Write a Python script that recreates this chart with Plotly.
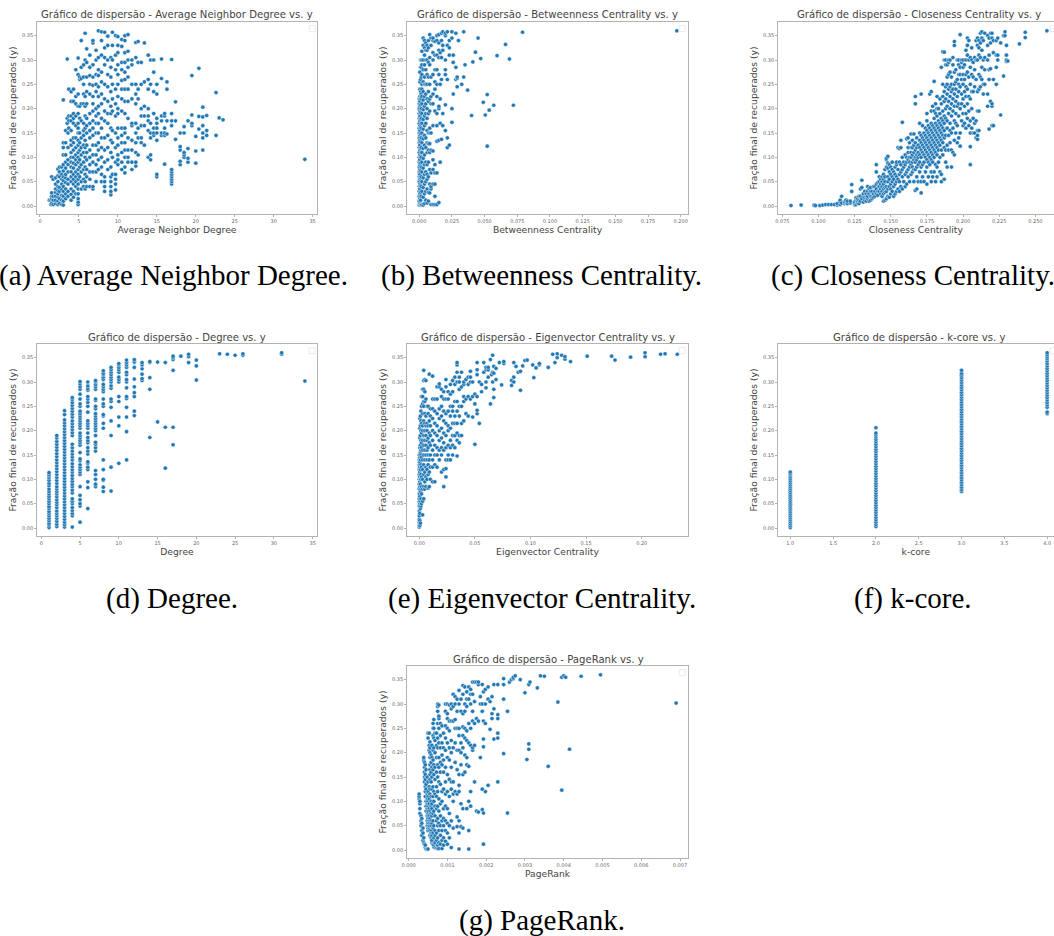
import plotly.graph_objects as go

WIDTH, HEIGHT = 1054, 936

# ---- data: (x value, [y values]) ----
a_columns = [(1.2,[.012]),(1.4,[.003,.012]),(1.5,[.005,.015,.02,.027,.06]),(1.7,[.003,.012,.02,.055]),
(2,[.005,.012,.02,.028,.035,.045,.058]),(2.3,[.003,.01,.018,.025,.032,.04,.05,.062,.076]),(2.5,[.005,.015,.03,.038,.06,.07,.08]),
(2.8,[.003,.012,.022,.034,.045,.055,.065,.08]),(3,[.002,.01,.02,.03,.04,.052,.06,.072,.085,.105,.12,.13,.218]),
(3.3,[.015,.025,.035,.048,.058,.065,.078,.09,.105,.13,.155]),(3.5,[.302,.17,.18]),(3.6,[.02,.03,.045,.055,.07,.085,.095,.12,.15]),
(3.7,[.24,.185,.175,.16]),(4,[.012,.024,.035,.05,.06,.07,.08,.09,.1,.11,.125,.135,.155,.175,.185,.215,.235]),
(4.3,[.018,.03,.045,.055,.065,.078,.088,.1,.115,.13,.14,.17,.18,.19,.215,.24]),(4.6,[.025,.04,.05,.06,.07,.085,.095,.105,.12,.14,.165,.185,.21,.225,.28]),
(4.9,[.003,.008,.015,.025,.035,.045,.055,.065,.075,.09,.1,.11,.125,.135,.15,.16,.17,.19,.205,.23,.27,.304]),
(5.1,[.06,.08,.095,.115,.13,.15,.18,.205,.26,.265]),(5.3,[.035,.05,.07,.085,.105,.12,.14,.175,.21,.262,.285,.34]),
(5.6,[.04,.055,.075,.09,.11,.125,.145,.155,.17,.21,.23,.25,.265,.29]),(5.8,[.035,.05,.065,.08,.1,.12,.135,.16,.185,.205,.225,.3,.355]),
(6,[.04,.06,.075,.095,.11,.125,.15,.165,.18,.21,.235,.265,.295,.323]),(6.4,[.04,.055,.07,.085,.1,.115,.14,.155,.17,.19,.23,.25,.268,.285,.31]),
(6.8,[.035,.04,.07,.09,.105,.125,.145,.16,.175,.195,.21,.225,.248,.265,.29,.335,.34]),(7.2,[.05,.07,.085,.105,.125,.15,.17,.185,.2,.235,.25,.27,.3,.32]),
(7.5,[.075,.095,.115,.13,.15,.17,.19,.205,.225,.245,.268,.28,.305,.36]),(7.9,[.05,.065,.08,.1,.12,.14,.16,.18,.21,.23,.255,.275,.31,.34,.358]),
(8.3,[.03,.04,.05,.06,.09,.115,.14,.175,.195,.22,.25,.29,.305,.325,.357]),(8.7,[.075,.095,.12,.145,.17,.19,.215,.245,.27,.3,.33,.349]),
(9.1,[.023,.03,.04,.05,.06,.08,.11,.135,.16,.19,.205,.235,.265,.285,.305]),(9.3,[.065,.1,.13,.155,.195,.22,.25,.3,.33,.357]),
(9.7,[.033,.045,.055,.065,.09,.12,.15,.185,.21,.24,.28,.31,.35]),(10,[.085,.095,.105,.125,.14,.16,.19,.2,.225,.25,.27,.29,.315,.33,.348]),
(10.5,[.075,.09,.11,.13,.145,.16,.195,.22,.24,.258,.28,.295,.328,.342]),(10.9,[.068,.08,.1,.115,.13,.15,.16,.19,.215,.24,.26,.275,.295,.315,.34,.35]),
(11.3,[.09,.1,.115,.14,.18,.215,.24,.265,.285,.3,.318,.352]),(11.8,[.075,.09,.115,.135,.165,.17,.22,.25,.29,.3]),
(12.3,[.082,.09,.11,.13,.15,.17,.21,.23,.25,.305,.336]),(12.6,[.105,.14,.16,.22,.24,.295,.338]),(13,[.13,.14,.165,.185,.2,.25,.295]),
(13.4,[.125,.165,.185,.205,.255,.335]),(13.9,[.1,.155,.175,.185,.2,.24,.26,.31]),(14.2,[.095,.105,.14,.15,.17,.25,.3]),(14.6,[.145,.15,.16,.19,.235,.275,.3]),
(15,[.06,.065,.135,.15,.16,.17,.18,.23,.25]),(15.6,[.145,.15,.175,.185,.262,.302]),(16,[.086,.145,.15,.16,.185,.19]),(16.3,[.148,.175,.24,.255]),
(16.9,[.045,.05,.055,.06,.065,.07,.075,.165,.175,.19,.301]),(17.4,[.137,.175,.214]),(18,[.085,.092,.115,.122,.15]),(18.5,[.1,.105,.11,.15,.163]),
(19,[.09,.098,.118,.175]),(19.5,[.165,.17,.187,.268]),(20,[.088,.113,.143]),(20.4,[.158,.184,.283]),(20.9,[.115,.14,.15,.165,.183,.203]),
(21.4,[.145,.155,.186]),(22.6,[.145,.233]),(23,[.181]),(23.5,[.177]),(34,[.096])]

b_columns = [(0,[.002,.01,.02,.03,.04,.05,.06,.07,.08,.09,.1,.11,.12,.13,.14,.15,.16,.17,.18,.19,.2,.21,.22]),
(.0005,[.005,.015,.025,.035,.045,.055,.065,.075,.085,.095,.105,.115,.125,.135,.145,.155,.165,.175,.185,.195,.205,.215,.225,.24,.255,.275]),
(.001,[.003,.012,.028,.042,.058,.072,.088,.102,.118,.132,.148,.162,.178,.192,.208,.222,.235,.26,.285,.3]),
(.0015,[.002,.02,.04,.06,.08,.1,.12,.14,.16,.18,.2,.22,.23,.265,.285,.3]),
(.002,[.003,.03,.05,.07,.09,.11,.13,.15,.17,.19,.21,.225,.24,.25,.27,.29,.3,.318]),
(.003,[.002,.018,.038,.058,.078,.098,.118,.138,.158,.178,.198,.218,.235,.255,.28,.3,.33,.345]),
(.004,[.005,.025,.045,.065,.085,.105,.125,.145,.165,.185,.205,.225,.25,.265,.29,.31,.325,.34]),
(.005,[.012,.03,.05,.07,.09,.12,.14,.17,.19,.21,.23,.25,.28,.3,.32,.335]),
(.006,[.006,.035,.055,.065,.085,.11,.13,.155,.18,.2,.22,.25,.27,.3,.32,.33]),
(.007,[.01,.028,.06,.09,.115,.128,.15,.19,.215,.235,.265,.295,.325,.34]),
(.008,[.027,.045,.075,.11,.128,.15,.16,.195,.22,.25,.29,.305,.352]),
(.009,[.003,.035,.04,.068,.115,.15,.21,.225,.265,.33,.345]),
(.0105,[.003,.045,.075,.095,.113,.165,.21,.23,.27,.3,.315,.34,.345]),
(.012,[.003,.02,.045,.068,.085,.195,.24,.255,.28,.31,.338]),
(.0135,[.003,.068,.133,.165,.19,.225,.25,.28,.31,.34,.35]),
(.015,[.007,.135,.2,.205,.27,.305,.32,.335,.352]),(.016,[.09,.17,.22,.25,.315]),(.017,[.137,.26,.305,.34,.355]),(.018,[.165,.19,.32,.33,.358]),
(.02,[.155,.208,.27,.28,.3,.35,.355]),(.0215,[.12,.14,.26,.33,.358]),(.023,[.125,.31,.325,.34]),(.025,[.172,.2,.345,.358]),(.026,[.23,.295,.31]),
(.028,[.26,.285,.355]),(.029,[.245,.262,.265]),(.03,[.34]),(.0325,[.25]),(.034,[.265,.358]),(.035,[.29]),(.037,[.238]),(.04,[.186]),(.041,[.296]),
(.043,[.316]),(.045,[.345]),(.047,[.303]),(.049,[.213]),(.0505,[.187]),(.052,[.123,.229]),(.0535,[.197]),(.057,[.207]),(.0595,[.309]),(.066,[.332]),
(.069,[.302]),(.072,[.207]),(.079,[.357]),(.197,[.36])]

c_columns = [(.081,[.001]),(.088,[.002]),(.097,[.001,.002]),(.098,[.001]),(.101,[.001]),(.103,[.002]),(.105,[.003]),(.107,[.003]),(.109,[.003]),(.111,[.003]),
(.113,[.002,.005]),(.115,[.003,.008,.012]),(.116,[.006,.02]),(.118,[.005,.008]),(.119,[.008,.012]),(.12,[.005,.01]),(.122,[.006,.01]),(.123,[.03,.044]),
(.125,[.002,.005,.008]),(.126,[.003,.012,.017]),(.127,[.006,.01,.015]),(.128,[.005,.012,.02]),(.129,[.01,.02,.035]),(.13,[.015,.038,.053]),(.131,[.008,.02,.025]),
(.132,[.012,.018,.03]),(.133,[.01,.02,.025]),(.134,[.015,.02,.03,.04]),(.135,[.01,.025,.035]),(.136,[.012,.02,.03,.038]),(.137,[.015,.02,.03]),(.138,[.018,.025,.04]),
(.139,[.02,.03,.04]),(.14,[.025,.035,.045,.07,.085]),(.141,[.022,.03,.048]),(.142,[.03,.04,.05,.06]),(.143,[.025,.035,.045,.055]),(.144,[.02,.03,.04,.05,.06]),
(.145,[.01,.025,.035,.045,.055,.065]),(.146,[.012,.028,.038,.05,.06,.075]),(.147,[.015,.03,.04,.08,.095,.098]),(.148,[.02,.035,.05,.06,.078,.088,.102]),
(.149,[.018,.04,.055,.07,.085]),(.15,[.025,.035,.045,.065,.08]),(.151,[.03,.05,.06,.075,.09]),(.152,[.02,.04,.055,.07]),(.153,[.025,.045,.065,.08]),
(.154,[.03,.05,.06,.085,.09]),(.155,[.035,.055,.075,.12]),(.156,[.03,.05,.065,.09,.118]),(.157,[.04,.07,.085,.12,.135]),(.158,[.035,.06,.075,.1,.172]),
(.159,[.05,.08,.09]),(.16,[.04,.065,.085,.105]),(.161,[.045,.07,.09,.1,.138]),(.162,[.06,.075,.095,.11,.12,.14]),(.163,[.05,.08,.09,.1,.13]),
(.164,[.065,.085,.1,.11,.12,.148]),(.165,[.07,.08,.09,.105,.12,.135]),(.166,[.05,.075,.095,.11,.125,.148]),(.167,[.032,.075,.09,.1,.115,.13,.21,.225]),
(.168,[.035,.06,.08,.095,.105,.12,.14]),(.169,[.05,.085,.1,.11,.125]),(.17,[.07,.09,.105,.12,.135,.15,.17]),(.171,[.027,.05,.08,.1,.115,.13,.145,.23]),
(.172,[.06,.085,.11,.125,.14,.165]),(.173,[.05,.09,.105,.12,.135,.15]),(.174,[.07,.1,.115,.13,.145,.16]),(.175,[.045,.08,.095,.11,.125,.14,.155,.175,.19]),
(.176,[.06,.09,.105,.12,.135,.15,.165]),(.177,[.085,.1,.115,.13,.145,.16,.23]),(.178,[.05,.07,.095,.11,.125,.14,.155,.17,.195,.235]),
(.179,[.06,.09,.105,.12,.135,.15,.165,.205]),(.18,[.07,.1,.115,.13,.145,.16,.18,.195,.256]),(.181,[.05,.085,.11,.125,.14,.155,.17,.19,.21]),
(.182,[.06,.08,.105,.12,.135,.15,.165,.185,.2,.225]),(.183,[.09,.115,.13,.145,.16,.175,.2]),(.184,[.07,.1,.125,.14,.155,.17,.19,.22]),
(.185,[.05,.065,.115,.135,.15,.165,.18,.21,.285]),(.186,[.105,.13,.145,.16,.175,.195,.225,.25,.317]),(.187,[.055,.12,.14,.155,.17,.185,.215,.235,.3,.316]),
(.188,[.09,.115,.145,.18,.2,.22,.245,.29,.3]),(.189,[.08,.125,.16,.175,.205,.23,.25,.265,.29]),(.19,[.115,.145,.19,.215,.24,.27,.295,.3]),
(.191,[.13,.155,.17,.2,.225,.245,.275,.3]),(.192,[.08,.115,.15,.185,.21,.235,.25,.265]),(.193,[.11,.16,.195,.22,.24,.29,.305]),
(.194,[.105,.135,.175,.205,.23,.25,.275,.33,.338]),(.195,[.15,.17,.19,.215,.24,.255,.28]),(.196,[.13,.165,.205,.225,.26,.3]),(.197,[.14,.185,.21,.235,.25,.27,.29,.3]),
(.198,[.123,.15,.2,.245,.27,.285,.352]),(.199,[.175,.21,.23,.26,.295,.3]),(.2,[.165,.19,.22,.25,.27,.285,.3]),(.201,[.17,.205,.235,.26,.29]),
(.202,[.16,.19,.225,.245,.27,.3,.32]),(.203,[.18,.21,.24,.275,.31,.33,.345]),(.204,[.165,.195,.225,.265,.3,.34]),(.205,[.085,.122,.15,.175,.22,.25,.285,.305]),
(.206,[.16,.2,.235,.27,.3,.325]),(.207,[.15,.18,.235,.265,.295]),(.208,[.15,.17,.245,.28,.305]),(.209,[.14,.175,.26,.3,.34]),(.21,[.137,.145,.155,.195,.235,.3,.33,.345]),
(.211,[.155,.195,.24,.27,.31,.325,.34]),(.212,[.245,.265,.305,.335,.355]),(.213,[.26,.285,.32,.345,.358]),(.214,[.23,.25,.3,.34]),(.215,[.25,.28,.305,.355]),
(.217,[.205,.23,.3,.33,.35]),(.218,[.158,.26,.28,.31,.345]),(.219,[.215,.282,.335,.355]),(.22,[.165,.205,.21,.345,.355]),(.221,[.165,.26,.315,.34]),
(.223,[.25,.285,.31,.34]),(.224,[.3,.31,.345]),(.226,[.187,.335]),(.228,[.267,.35]),(.229,[.35,.358]),(.23,[.297,.3,.31,.33]),(.231,[.298]),(.239,[.333]),(.243,[.346,.357]),(.258,[.36])]

d_columns = [(1,[.001,.006,.01,.015,.02,.025,.03,.034,.04,.044,.05,.055,.06,.065,.07,.075,.08,.087,.092,.098,.103,.107,.11,.114]),
(2,[.003,.008,.014,.02,.025,.03,.035,.042,.048,.053,.058,.064,.07,.075,.08,.085,.092,.098,.104,.11,.116,.122,.128,.134,.14,.147,.153,.16,.166,.172,.178,.185,.19]),
(3,[.002,.007,.012,.018,.024,.03,.036,.042,.048,.054,.06,.066,.072,.078,.084,.09,.096,.102,.108,.114,.12,.126,.132,.138,.144,.15,.156,.162,.168,.174,.18,.186,.192,.198,.204,.21,.216,.222,.233,.241]),
(4,[.002,.025,.03,.036,.042,.05,.055,.06,.072,.078,.085,.09,.096,.102,.108,.115,.12,.126,.132,.14,.146,.152,.158,.165,.172,.19,.196,.202,.208,.214,.22,.228,.234,.24,.246,.252,.258,.264,.268]),
(5,[.012,.045,.05,.058,.067,.085,.11,.115,.12,.125,.13,.138,.142,.155,.17,.175,.18,.185,.19,.195,.205,.21,.215,.22,.225,.23,.235,.24,.25,.255,.265,.275,.285,.29,.296,.301]),
(6,[.04,.083,.095,.12,.125,.133,.136,.152,.158,.165,.175,.18,.186,.195,.205,.21,.215,.22,.238,.25,.258,.265,.27,.283,.286,.292,.3]),
(7,[.085,.09,.1,.11,.118,.158,.165,.172,.176,.19,.2,.205,.21,.215,.22,.225,.23,.235,.245,.25,.262,.265,.285,.29,.295,.3,.303]),
(8,[.075,.084,.098,.1,.12,.14,.205,.215,.23,.233,.25,.255,.265,.28,.285,.29,.295,.305,.31,.315,.318,.323]),
(9,[.076,.125,.19,.22,.248,.26,.265,.287,.292,.3,.305,.31,.315,.32,.325,.33]),(10,[.133,.21,.228,.26,.27,.3,.305,.31,.32,.325,.33,.335,.338]),
(11,[.14,.198,.228,.248,.266,.27,.288,.3,.305,.315,.32,.33,.335,.34,.345]),(12,[.231,.24,.27,.278,.29,.306,.33,.34,.342,.346]),(13,[.303,.307,.316,.327,.335,.34]),
(14,[.186,.285,.309,.34,.342]),(15,[.218,.341]),(16,[.123,.207,.34]),(17,[.171,.207,.324,.346,.35,.353]),(18,[.353]),(19,[.34,.352,.357]),(20,[.304,.333,.345]),
(23,[.358]),(24,[.357]),(25,[.355]),(26,[.355,.358]),(31,[.357,.36]),(34,[.302])]

e_columns = [(0,[.002,.006,.012,.018,.025,.035,.045,.055,.06,.07,.08,.09,.1,.11,.12,.13,.14,.15]),
(.0005,[.005,.015,.03,.05,.065,.085,.095,.105,.115,.125,.135,.145,.165,.185,.205,.225]),(.001,[.01,.04,.055,.075,.09,.1,.12,.14,.155,.17,.19,.21,.23]),
(.0015,[.045,.06,.08,.1,.11,.13,.15,.16,.18,.2,.22,.24]),(.002,[.05,.07,.085,.105,.125,.145,.165,.175,.195,.215,.25,.27]),
(.003,[.027,.055,.08,.1,.12,.14,.16,.18,.2,.21,.235,.255,.27,.285]),(.004,[.06,.085,.11,.13,.15,.17,.19,.22,.25,.26,.285,.303,.324]),
(.005,[.08,.095,.115,.14,.16,.18,.2,.215,.235,.26,.28,.305]),(.006,[.085,.105,.125,.15,.17,.19,.21,.23,.265,.303]),(.007,[.1,.12,.14,.16,.18,.2,.215,.25]),
(.008,[.082,.11,.13,.15,.165,.185,.21,.235,.25]),(.009,[.085,.115,.14,.175,.195,.22,.316]),(.01,[.1,.125,.15,.17,.19,.21,.23,.245]),
(.012,[.095,.125,.14,.16,.18,.2,.225,.245,.265,.312]),(.014,[.095,.13,.15,.17,.195,.215,.24,.265]),(.016,[.125,.15,.165,.19,.21,.235,.265,.29]),
(.018,[.14,.16,.18,.2,.225,.245,.29,.296]),(.02,[.115,.15,.165,.185,.205,.23,.25,.27,.285]),(.022,[.085,.12,.16,.175,.195,.22,.24,.265,.28]),
(.024,[.105,.122,.14,.165,.19,.215,.235,.265,.29,.305]),(.026,[.14,.15,.17,.2,.21,.24,.265,.28]),(.028,[.14,.165,.18,.205,.23,.25,.275,.295]),
(.03,[.15,.17,.19,.215,.24,.25,.28,.303]),(.032,[.165,.19,.215,.23,.26,.295,.31]),(.034,[.148,.18,.195,.215,.24,.26,.3,.32,.335,.34]),
(.036,[.175,.19,.23,.25,.285,.3,.31]),(.038,[.19,.215,.25,.29,.32]),(.04,[.22,.26,.27,.295,.3]),(.042,[.235,.265,.305]),(.044,[.23,.27,.295,.31]),
(.046,[.265,.3,.31,.322]),(.048,[.228,.27,.3]),(.05,[.172,.255,.275]),(.052,[.235,.242,.27,.315,.325,.34]),(.054,[.215,.3]),(.056,[.28,.295]),(.058,[.32,.34]),
(.06,[.288,.3,.325,.33]),(.062,[.31,.325,.33]),(.064,[.255,.346]),(.065,[.315]),(.066,[.3,.32,.355]),(.067,[.268,.285,.318,.332]),(.069,[.305,.328]),(.072,[.34]),
(.074,[.294]),(.076,[.338,.342]),(.083,[.293,.303]),(.085,[.3,.31,.34]),(.087,[.332]),(.089,[.32]),(.091,[.283,.322]),(.093,[.333]),(.095,[.344]),(.097,[.345]),
(.102,[.335]),(.103,[.309]),(.105,[.329]),(.108,[.335,.338]),(.116,[.33]),(.12,[.357]),(.122,[.34]),(.124,[.35,.358]),(.128,[.355]),(.131,[.347,.352]),(.136,[.342]),
(.151,[.353]),(.173,[.353]),(.176,[.345]),(.19,[.351]),(.203,[.352,.36]),(.217,[.357]),(.221,[.358]),(.232,[.357])]

f_columns = [(1,[.001,.005,.009,.013,.017,.021,.025,.029,.033,.037,.041,.045,.049,.053,.057,.061,.065,.069,.073,.077,.081,.085,.089,.093,.097,.101,.105,.109,.112,.115]),
(2,[.003,.007,.012,.017,.022,.027,.032,.037,.042,.047,.052,.057,.062,.067,.072,.077,.082,.087,.092,.097,.102,.107,.112,.117,.122,.127,.132,.137,.142,.147,.152,.157,.162,.167,.172,.177,.182,.187,.191,.195,.206]),
(3,[.075,.079,.084,.089,.094,.099,.104,.109,.114,.119,.124,.129,.134,.139,.144,.149,.154,.159,.164,.169,.174,.179,.184,.189,.194,.199,.204,.209,.214,.219,.224,.229,.234,.239,.244,.249,.254,.259,.264,.269,.274,.279,.284,.289,.294,.299,.304,.309,.314,.318,.324]),
(4,[.235,.238,.248,.253,.258,.263,.268,.273,.278,.283,.288,.293,.298,.303,.308,.313,.318,.323,.328,.333,.338,.343,.348,.352,.356,.36])]

# PageRank x values are written in thousandths
g_columns = [(.27,[.105,.11,.115]),(.29,[.075,.085,.095,.1]),(.32,[.05,.06,.07]),(.34,[.03,.04,.055,.065]),(.37,[.02,.035,.045]),(.39,[.015,.025,.185,.19]),
(.41,[.012,.14,.15,.16,.17,.18]),(.43,[.005,.01,.11,.12,.13,.145,.155,.175]),(.45,[.002,.08,.09,.1,.125,.135,.165]),(.48,[.002,.05,.06,.07,.085,.095,.105,.115,.15]),
(.5,[.002,.04,.045,.055,.065,.075,.08,.09,.1,.11,.12,.14,.23,.24]),(.53,[.045,.05,.06,.07,.085,.095,.105,.13,.205,.215,.24]),
(.55,[.03,.04,.055,.065,.08,.115,.125,.145,.155,.165,.175,.19,.2,.21,.222]),(.58,[.025,.035,.05,.06,.075,.09,.1,.11,.14,.16,.18,.195]),
(.6,[.015,.02,.03,.04,.055,.07,.085,.095,.125,.15,.17,.19,.215]),(.63,[.012,.035,.045,.06,.075,.11,.13,.165,.185,.205,.235,.25,.26]),
(.65,[.006,.01,.025,.05,.08,.1,.12,.155,.175,.21,.23,.25,.268]),(.68,[.005,.015,.03,.04,.07,.09,.115,.145,.17,.2,.225,.24]),
(.72,[.004,.02,.035,.06,.085,.11,.13,.16,.19,.215,.24]),(.75,[.003,.01,.025,.05,.065,.09,.12,.15,.175,.21,.23,.26,.285,.295,.3]),
(.78,[.003,.015,.04,.055,.08,.105,.14,.17,.19,.22,.25,.27,.275,.298]),(.82,[.012,.03,.05,.07,.095,.135,.16,.18,.21,.235,.26]),
(.86,[.003,.02,.04,.06,.1,.12,.175,.195,.22,.255]),(.9,[.01,.025,.05,.065,.085,.125,.16,.185,.21,.24]),(.95,[.018,.04,.06,.09,.115,.14,.17,.205,.23,.255,.285,.3]),
(1,[.012,.035,.055,.085,.12,.155,.19,.22,.25,.27,.28,.3]),(1.05,[.025,.05,.075,.11,.145,.185,.21,.245,.265,.298]),(1.1,[.005,.06,.125,.14,.17,.2,.225,.265,.29,.3]),
(1.15,[.045,.1,.115,.14,.21,.265,.295,.32]),(1.2,[.12,.18,.22,.25,.268,.3,.315]),(1.25,[.048,.068,.115,.165,.205,.25,.285,.31]),
(1.3,[.002,.035,.06,.12,.133,.155,.205,.235,.25,.3,.328]),(1.35,[.048,.095,.175,.2,.22,.285,.31]),(1.4,[.045,.085,.155,.21,.235,.253,.28,.32,.338]),
(1.45,[.16,.195,.23,.25,.285,.3,.335]),(1.5,[.085,.175,.19,.225,.245,.295,.31,.325]),(1.55,[.002,.04,.1,.172,.22,.26,.31,.335]),(1.6,[.09,.12,.215,.25,.3,.32,.33]),
(1.65,[.205,.21,.265,.285,.32,.345]),(1.7,[.14,.215,.26,.305,.345]),(1.75,[.08,.27,.345]),(1.8,[.078,.265,.34,.345]),(1.85,[.19,.3,.315]),(1.9,[.083,.125,.285,.3,.34]),
(1.93,[.012,.076,.212,.228,.265,.325]),(1.98,[.12,.26,.3,.33]),(2.05,[.133,.31,.335]),(2.1,[.248,.305]),(2.15,[.27,.28,.315]),(2.2,[.228,.29,.34]),
(2.3,[.14,.23,.24,.27,.278,.34]),(2.45,[.198,.31,.34,.352]),(2.55,[.076,.285]),(2.6,[.345]),(2.65,[.35]),(2.7,[.352,.355]),(2.75,[.358]),(2.88,[.35]),(3,[.323]),(3.05,[.186]),
(3.1,[.207,.218,.34]),(3.13,[.345]),(3.32,[.333]),(3.4,[.358]),(3.5,[.357]),(3.6,[.172]),(3.85,[.304]),(3.95,[.123,.355]),(4,[.358]),(4.05,[.355]),(4.15,[.207]),(4.45,[.357]),(4.95,[.36]),(6.9,[.302])]

metric_names = ["Average Neighbor Degree","Betweenness Centrality","Closeness Centrality","Degree","Eigenvector Centrality","k-core","PageRank"]
caption_tags = ["(a)","(b)","(c)","(d)","(e)","(f)","(g)"]
caption_names = ["Average Neighbor Degree.","Betweenness Centrality.","Closeness Centrality.","Degree.","Eigenvector Centrality.","k-core.","PageRank."]
y_ticks = [0,.05,.1,.15,.2,.25,.3,.35]
x_ticks_a = [0,5,10,15,20,25,30,35]
x_ticks_b = [0,.025,.05,.075,.1,.125,.15,.175,.2]
x_ticks_c = [.075,.1,.125,.15,.175,.2,.225,.25]
x_ticks_e = [0,.05,.1,.15,.2]
x_ticks_f = [1,1.5,2,2.5,3,3.5,4]
x_ticks_g = [0,.001,.002,.003,.004,.005,.006,.007]
Y_LABEL = "Fração final de recuperados (y)"

# ---- layout of the panels, in page pixels ----
panels = [
 dict(c=a_columns,s=1,ticks=x_ticks_a,fmt="d",rng=[-.42,35.6],l=36.7,r=317.3,t=21.7,b=214.3,tx=177,ty=15,cx=173,cy=275),
 dict(c=b_columns,s=1,ticks=x_ticks_b,fmt=".3f",rng=[-.0096,.2058],l=406.7,r=688.3,t=21.7,b=214.3,tx=547.5,ty=15,cx=541,cy=275),
 dict(c=c_columns,s=1,ticks=x_ticks_c,fmt=".3f",rng=[.0718,.2629],l=777.7,r=1054,t=21.7,b=214.3,tx=918.5,ty=15,cx=913,cy=275),
 dict(c=d_columns,s=1,ticks=x_ticks_a,fmt="d",rng=[-.59,35.6],l=36.7,r=317.3,t=343.7,b=536.3,tx=177,ty=337,cx=172,cy=598),
 dict(c=e_columns,s=1,ticks=x_ticks_e,fmt=".2f",rng=[-.0113,.2419],l=406.7,r=688.3,t=343.7,b=536.3,tx=548,ty=337,cx=542,cy=598),
 dict(c=f_columns,s=1,ticks=x_ticks_f,fmt=".1f",rng=[.853,4.08],l=777.7,r=1054,t=343.7,b=536.3,tx=919,ty=337,cx=913,cy=598),
 dict(c=g_columns,s=.001,ticks=x_ticks_g,fmt=".3f",rng=[-.00005,.007214],l=406.7,r=688.3,t=665.7,b=858.3,tx=548,ty=659,cx=542,cy=920),
]

fig = go.Figure()
layout = dict(width=WIDTH,height=HEIGHT,margin=dict(l=0,r=0,t=0,b=0),paper_bgcolor="white",plot_bgcolor="white",
              showlegend=False,font=dict(family="DejaVu Sans",color="#444444"))
annotations, shapes = [], []
FRAME = "#b3b3b3"
for i,(p,name) in enumerate(zip(panels,metric_names)):
    n = "" if i==0 else str(i+1)
    xs = [x*p["s"] for x,ys in p["c"] for _ in ys]
    ys = [y for _,col in p["c"] for y in col]
    fig.add_trace(go.Scatter(x=xs,y=ys,mode="markers",xaxis="x"+n,yaxis="y"+n,name=name,
        marker=dict(color="#1f77b4",size=4.2,line=dict(color="white",width=.45))))
    clipped = p["r"]>=WIDTH
    layout["xaxis"+n] = dict(domain=[p["l"]/WIDTH,p["r"]/WIDTH],range=p["rng"],tickvals=p["ticks"],tickformat=p["fmt"],automargin=False,
        anchor="y"+n,showgrid=False,zeroline=False,showline=True,mirror=True,linecolor=FRAME,linewidth=1,
        ticks="outside",ticklen=1.5,tickwidth=.5,tickcolor=FRAME,tickfont=dict(size=5,color="#666666"),
        title=dict(text=name,font=dict(size=9.2,color="#444444"),standoff=3))
    layout["yaxis"+n] = dict(domain=[1-p["b"]/HEIGHT,1-p["t"]/HEIGHT],range=[-.017,.3787],tickvals=y_ticks,tickformat=".2f",automargin=False,
        anchor="x"+n,showgrid=False,zeroline=False,showline=True,mirror=(not clipped),linecolor=FRAME,linewidth=1,
        ticks="outside",ticklen=1.5,tickwidth=.5,tickcolor=FRAME,tickfont=dict(size=5,color="#666666"),
        title=dict(text=Y_LABEL,font=dict(size=9.2,color="#444444"),standoff=3))
    annotations.append(dict(text=f"Gráfico de dispersão - {name} vs. y",xref="paper",yref="paper",x=p["tx"]/WIDTH,y=1-p["ty"]/HEIGHT,
        showarrow=False,xanchor="center",yanchor="middle",font=dict(size=10.1,color="#444444")))
    annotations.append(dict(text=f"{caption_tags[i]} {caption_names[i]}",xref="paper",yref="paper",x=p["cx"]/WIDTH,y=1-p["cy"]/HEIGHT,
        showarrow=False,xanchor="center",yanchor="middle",font=dict(size=29,family="Liberation Serif",color="black")))
    box_r = min(p["l"]+278.5,WIDTH+4)
    shapes.append(dict(type="rect",xref="paper",yref="paper",x0=(box_r-6)/WIDTH,x1=box_r/WIDTH,
        y0=1-(p["t"]+10)/HEIGHT,y1=1-(p["t"]+4)/HEIGHT,line=dict(color="#e6e6e6",width=.8),fillcolor="white"))
layout["annotations"]=annotations
layout["shapes"]=shapes
fig.update_layout(**layout)
fig.write_html("out.html",config=dict(displayModeBar=False),post_script="document.body.style.margin='0';document.documentElement.style.overflow='hidden';")
